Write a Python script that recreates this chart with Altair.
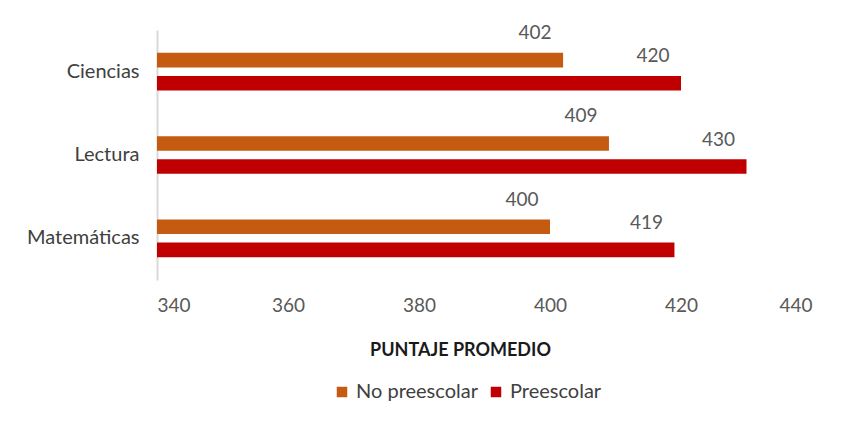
import altair as alt
import pandas as pd

categories = ["Ciencias", "Lectura", "Matemáticas"]
series = ["No preescolar", "Preescolar"]
no_preescolar = [402, 409, 400]
preescolar = [420, 430, 419]
x_ticks = [340, 360, 380, 400, 420, 440]

rows = []
for c, a, b in zip(categories, no_preescolar, preescolar):
    rows.append({"area": c, "grupo": series[0], "puntaje": a})
    rows.append({"area": c, "grupo": series[1], "puntaje": b})
df = pd.DataFrame(rows)

FONT = "Lato"

x = alt.X("puntaje:Q",
          scale=alt.Scale(domain=[340, 440], nice=False, zero=False),
          axis=alt.Axis(values=x_ticks, title="PUNTAJE PROMEDIO", grid=False,
                        domain=False, ticks=False, labelPadding=16,
                        labelFontSize=19, labelColor="#595959", labelFont=FONT,
                        titleFont=FONT, titleFontSize=18, titleFontWeight="bold",
                        titleColor="#1a1a1a", titleX=303, titleY=70,
                        titleBaseline="middle", titleAlign="center"))
y = alt.Y("area:N", sort=categories,
          scale=alt.Scale(paddingInner=0, paddingOuter=0),
          axis=alt.Axis(title=None, ticks=False, domainColor="#d9d9d9",
                        domainWidth=2, labelPadding=18, labelFontSize=20,
                        labelColor="#404040", labelFont=FONT))
yoff = alt.YOffset("grupo:N", sort=series,
                   scale=alt.Scale(paddingInner=0.37, paddingOuter=0.99))
color = alt.Color("grupo:N", sort=series,
                  scale=alt.Scale(domain=series, range=["#C55A11", "#C00000"]),
                  legend=alt.Legend(title=None, orient="none", legendX=175,
                                    legendY=352, direction="horizontal",
                                    symbolType="square", symbolSize=110,
                                    labelFontSize=20, labelColor="#404040",
                                    labelFont=FONT, columnPadding=8,
                                    labelOffset=4, symbolStrokeWidth=0))

bars = alt.Chart(df).mark_bar(clip=True).encode(
    x=x, x2=alt.datum(340), y=y, yOffset=yoff, color=color)
labels = alt.Chart(df).mark_text(dx=-28, dy=-27, fontSize=19, color="#595959",
                                 font=FONT, baseline="middle",
                                 align="center").encode(
    x="puntaje:Q", y=alt.Y("area:N", sort=categories), yOffset=yoff,
    text="puntaje:Q")

chart = alt.layer(bars, labels).properties(
    width=655, height=250,
    autosize=alt.AutoSizeParams(type="none"),
    padding={"left": 149, "top": 22, "right": 15, "bottom": 140},
).configure(background="white").configure_view(strokeWidth=0, stroke=None)

chart.save("out.html", embed_options={"renderer": "svg", "actions": False})
